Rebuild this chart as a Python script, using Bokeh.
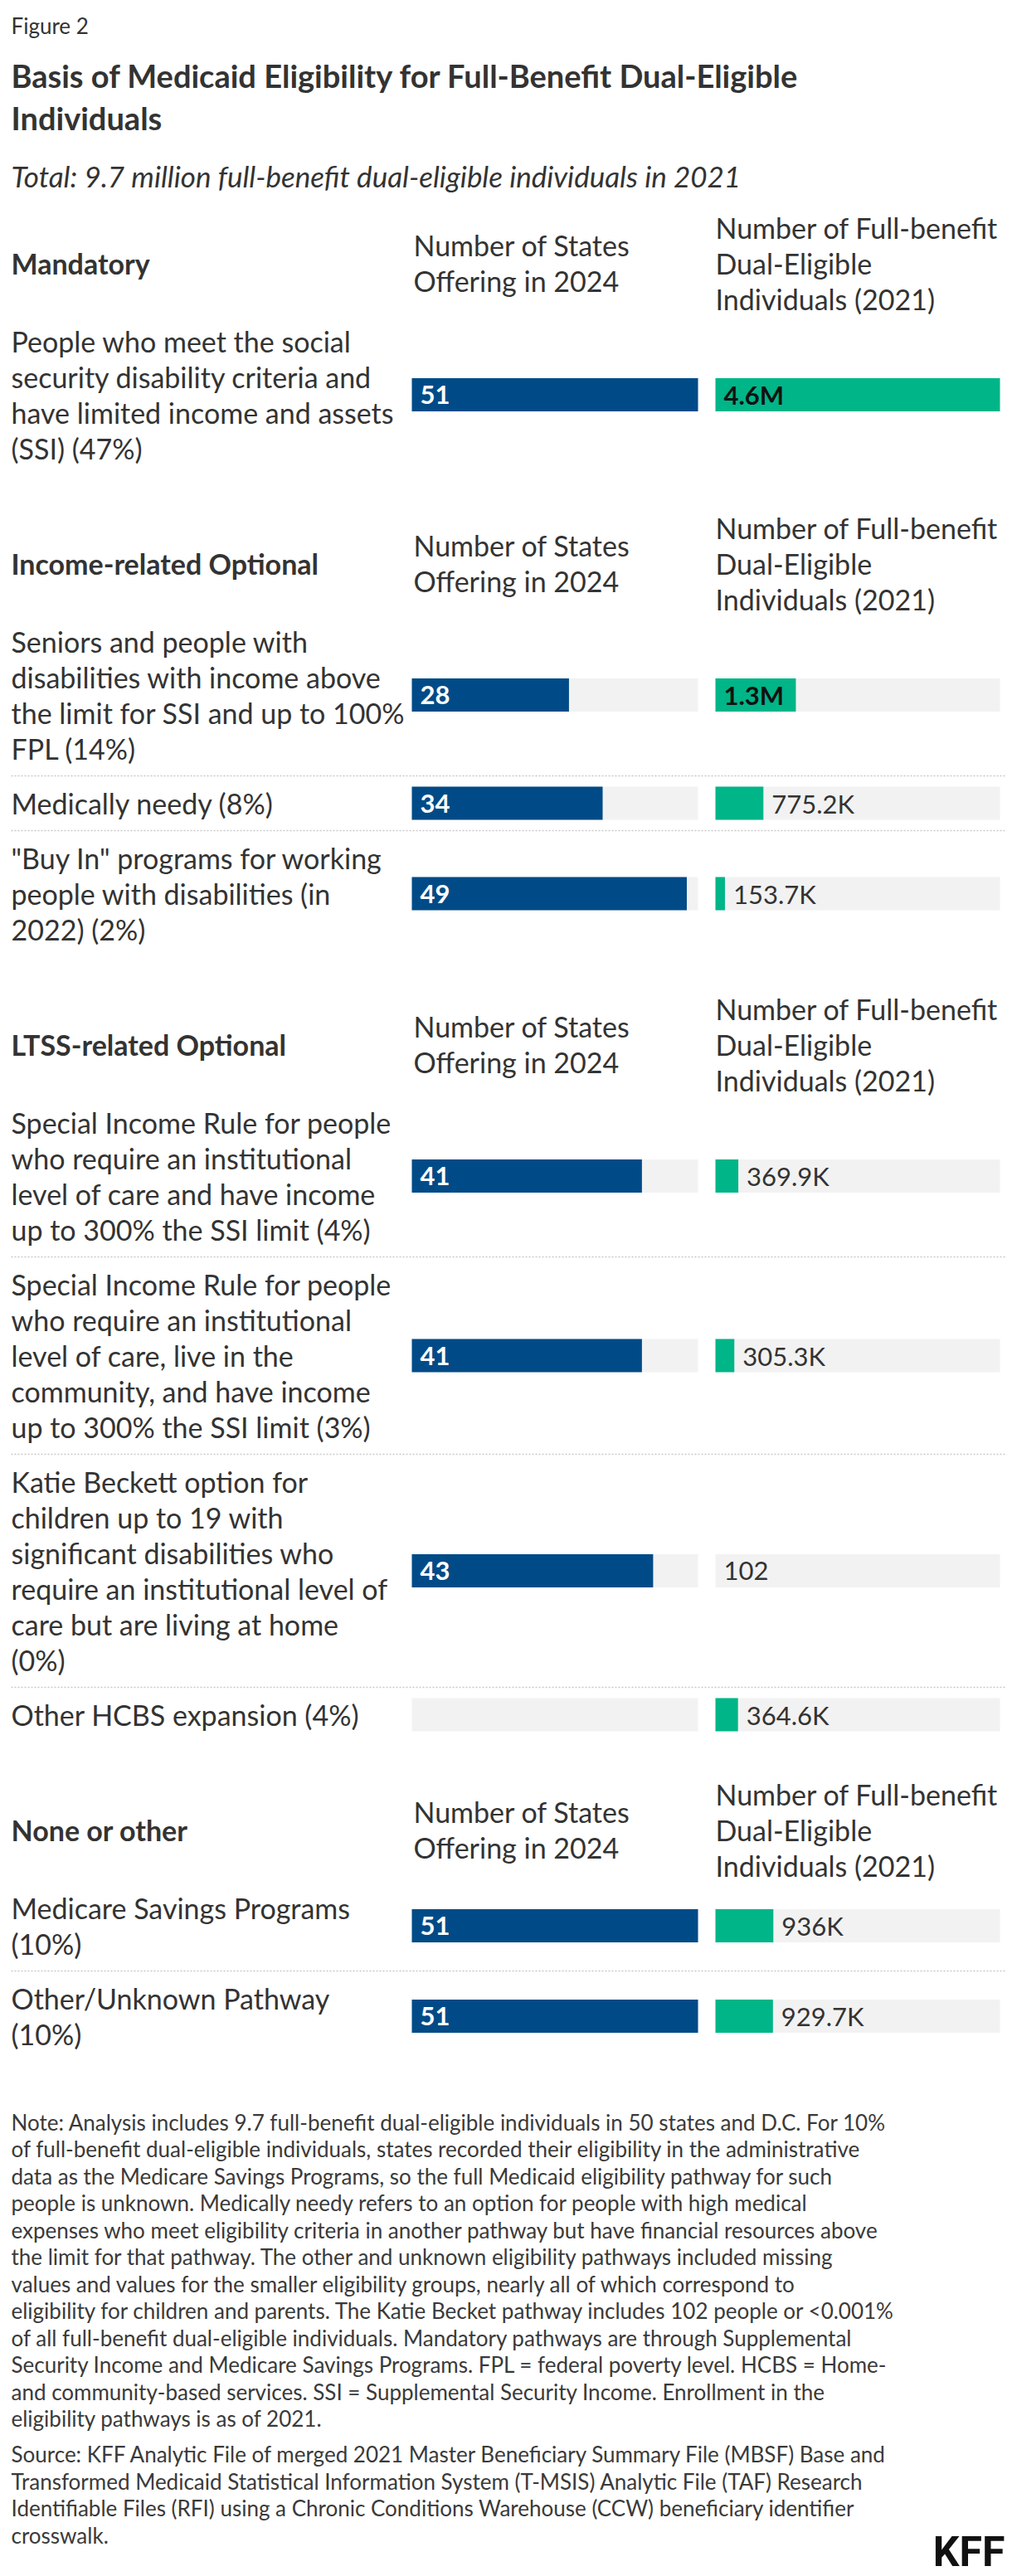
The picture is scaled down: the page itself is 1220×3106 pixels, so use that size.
from bokeh.plotting import figure
from bokeh.models import Range1d, ColumnDataSource
from bokeh.core.properties import value
from bokeh.embed import file_html
from bokeh.resources import INLINE

# ---------------- data ----------------
figure_label = "Figure 2"
title_lines = ["Basis of Medicaid Eligibility for Full-Benefit Dual-Eligible", "Individuals"]
subtitle = "Total: 9.7 million full-benefit dual-eligible individuals in 2021"

section_titles = ["Mandatory", "Income-related Optional", "LTSS-related Optional", "None or other"]
states_header = ["Number of States", "Offering in 2024"]
duals_header = ["Number of Full-benefit", "Dual-Eligible", "Individuals (2021)"]

row_section = [0, 1, 1, 1, 2, 2, 2, 2, 3, 3]
row_labels = [
    ["People who meet the social", "security disability criteria and", "have limited income and assets", "(SSI) (47%)"],
    ["Seniors and people with", "disabilities with income above", "the limit for SSI and up to 100%", "FPL (14%)"],
    ["Medically needy (8%)"],
    ['"Buy In" programs for working', "people with disabilities (in", "2022) (2%)"],
    ["Special Income Rule for people", "who require an institutional", "level of care and have income", "up to 300% the SSI limit (4%)"],
    ["Special Income Rule for people", "who require an institutional", "level of care, live in the", "community, and have income", "up to 300% the SSI limit (3%)"],
    ["Katie Beckett option for", "children up to 19 with", "significant disabilities who", "require an institutional level of", "care but are living at home", "(0%)"],
    ["Other HCBS expansion (4%)"],
    ["Medicare Savings Programs", "(10%)"],
    ["Other/Unknown Pathway", "(10%)"],
]
states_2024 = [51, 28, 34, 49, 41, 41, 43, None, 51, 51]
duals_2021 = [4600000, 1300000, 775200, 153700, 369900, 305300, 102, 364600, 936000, 929700]

note_lines = [
    "Note: Analysis includes 9.7 full-benefit dual-eligible individuals in 50 states and D.C. For 10%",
    "of full-benefit dual-eligible individuals, states recorded their eligibility in the administrative",
    "data as the Medicare Savings Programs, so the full Medicaid eligibility pathway for such",
    "people is unknown. Medically needy refers to an option for people with high medical",
    "expenses who meet eligibility criteria in another pathway but have financial resources above",
    "the limit for that pathway. The other and unknown eligibility pathways included missing",
    "values and values for the smaller eligibility groups, nearly all of which correspond to",
    "eligibility for children and parents. The Katie Becket pathway includes 102 people or <0.001%",
    "of all full-benefit dual-eligible individuals. Mandatory pathways are through Supplemental",
    "Security Income and Medicare Savings Programs. FPL = federal poverty level. HCBS = Home-",
    "and community-based services. SSI = Supplemental Security Income. Enrollment in the",
    "eligibility pathways is as of 2021.",
]
source_lines = [
    "Source: KFF Analytic File of merged 2021 Master Beneficiary Summary File (MBSF) Base and",
    "Transformed Medicaid Statistical Information System (T-MSIS) Analytic File (TAF) Research",
    "Identifiable Files (RFI) using a Chronic Conditions Warehouse (CCW) beneficiary identifier",
    "crosswalk.",
]
logo_text = "KFF"

# ---------------- styling / layout ----------------
W, H = 1220, 3106
FONT = "Lato"
TXT = "#333333"
BLUE = "#004b87"
GREEN = "#00b588"
TRACK = "#f2f2f2"
LEFT = 13
S_X0, S_X1 = 496, 841
D_X0, D_X1 = 862, 1205
LH = 43.0
BAR_H = 40
LABEL_FS = "34px"
VAL_FS = "31px"

p = figure(width=W, height=H, x_range=Range1d(0, W), y_range=Range1d(H, 0),
           min_border=0, toolbar_location=None, output_backend="svg",
           x_axis_location=None, y_axis_location=None)
p.grid.visible = False
p.outline_line_color = None
p.background_fill_color = "white"
p.border_fill_color = "white"


def col_range(x0, x1, vmax):
    k = vmax / (x1 - x0)
    return Range1d(start=-x0 * k, end=(W - x0) * k)


s_max = max(v for v in states_2024 if v is not None)
d_max = max(duals_2021)
p.extra_x_ranges = {"states": col_range(S_X0, S_X1, s_max),
                    "duals": col_range(D_X0, D_X1, d_max)}


def fmt(v):
    if v >= 1e6:
        return f"{v/1e6:.1f}M"
    if v >= 1e3:
        return f"{v/1e3:.1f}".rstrip("0").rstrip(".") + "K"
    return str(int(v))


def txt(xs, ys, texts, size, color=TXT, style="normal", align="left", baseline="middle", **kw):
    p.text(x=xs, y=ys, text=texts, text_font=value(FONT), text_font_size=size,
           text_color=color, text_font_style=style, text_align=align,
           text_baseline=baseline, **kw)


# header texts
txt([LEFT], [30], [figure_label], "26px", baseline="alphabetic")
txt([LEFT, LEFT], [90, 141], title_lines, "38px", style="bold", baseline="alphabetic")
txt([LEFT], [211], [subtitle], "35px", style="italic", baseline="alphabetic")

# compute layout rows
row_center = []
sep_y = []
sec_center = {}
y = 252.0
for si, st in enumerate(section_titles):
    if si > 0:
        y += 52.5
    sec_center[si] = y + 1.5 * LH
    y += 3 * LH + 8.5
    rows = [i for i, s in enumerate(row_section) if s == si]
    for k, i in enumerate(rows):
        if k > 0:
            y += 11.5
            sep_y.append(y)
            y += 11.5
        n = len(row_labels[i])
        row_center.append(y + n * LH / 2)
        y += n * LH
last_bottom = y

# section headers
for si, st in enumerate(section_titles):
    c = sec_center[si]
    txt([LEFT], [c], [st], LABEL_FS, style="bold")
    txt([S_X0 + 2] * 2, [c - LH / 2, c + LH / 2], states_header, LABEL_FS)
    txt([D_X0] * 3, [c - LH, c, c + LH], duals_header, LABEL_FS)

# row labels
for i, lines in enumerate(row_labels):
    n = len(lines)
    ys = [row_center[i] + (j - (n - 1) / 2) * LH for j in range(n)]
    txt([LEFT] * n, ys, lines, LABEL_FS)

# separators
p.segment(x0=[LEFT] * len(sep_y), x1=[W - 9] * len(sep_y), y0=sep_y, y1=sep_y,
          line_color="#c9c9c9", line_width=1.5, line_dash="2 2")

# tracks
n_rows = len(row_labels)
p.hbar(y=row_center, left=0, right=[s_max] * n_rows, height=BAR_H, fill_color=TRACK,
       line_color=None, x_range_name="states")
p.hbar(y=row_center, left=0, right=[d_max] * n_rows, height=BAR_H, fill_color=TRACK,
       line_color=None, x_range_name="duals")

# state bars
s_idx = [i for i, v in enumerate(states_2024) if v is not None]
s_src = ColumnDataSource(dict(y=[row_center[i] for i in s_idx],
                              v=[states_2024[i] for i in s_idx],
                              t=[fmt(states_2024[i]) for i in s_idx]))
p.hbar(y="y", left=0, right="v", height=BAR_H, fill_color=BLUE, line_color=None,
       source=s_src, x_range_name="states")
p.text(x=0, y="y", text="t", source=s_src, x_range_name="states", x_offset=10,
       text_font=value(FONT), text_font_size=VAL_FS, text_font_style="bold",
       text_color="white", text_baseline="middle")

# dual bars
d_src = ColumnDataSource(dict(y=row_center, v=duals_2021))
p.hbar(y="y", left=0, right="v", height=BAR_H, fill_color=GREEN, line_color=None,
       source=d_src, x_range_name="duals")
inside = [i for i, v in enumerate(duals_2021) if v / d_max >= 0.25]
outside = [i for i, v in enumerate(duals_2021) if v / d_max < 0.25]
p.text(x=[0] * len(inside), y=[row_center[i] for i in inside],
       text=[fmt(duals_2021[i]) for i in inside], x_range_name="duals", x_offset=10,
       text_font=value(FONT), text_font_size=VAL_FS, text_font_style="bold",
       text_color="#111111", text_baseline="middle")
p.text(x=[duals_2021[i] for i in outside], y=[row_center[i] for i in outside],
       text=[fmt(duals_2021[i]) for i in outside], x_range_name="duals", x_offset=10,
       text_font=value(FONT), text_font_size=VAL_FS,
       text_color=TXT, text_baseline="middle")

# notes
NLH = 32.5
y0 = 2558
note_y = [y0 + j * NLH for j in range(len(note_lines))]
txt([LEFT] * len(note_lines), note_y, note_lines, "26px", color="#3a3a3a")
y1 = note_y[-1] + 43
src_y = [y1 + j * NLH for j in range(len(source_lines))]
txt([LEFT] * len(source_lines), src_y, source_lines, "26px", color="#3a3a3a")

# logo
p.text(x=[1211], y=[3076], text=[logo_text], text_font=value("Roboto"), text_font_size="50px",
       text_font_style="bold", text_color="#111111", text_align="right", text_baseline="alphabetic")

open("out.html", "w").write(file_html(p, INLINE))
